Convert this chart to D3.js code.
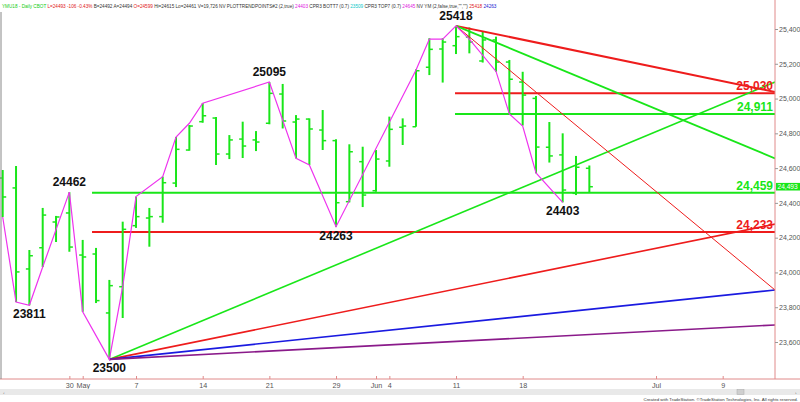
<!DOCTYPE html>
<html><head><meta charset="utf-8">
<script src="https://cdn.jsdelivr.net/npm/d3@7"></script>
<style>body{margin:0;background:#fff}svg{display:block}</style>
</head><body>
<script>
// ---- data ----
const dates = ["Apr 23","Apr 24","Apr 25","Apr 26","Apr 27","Apr 30","May 1","May 2","May 3","May 4",
 "May 7","May 8","May 9","May 10","May 11","May 14","May 15","May 16","May 17","May 18",
 "May 21","May 22","May 23","May 24","May 25","May 29","May 30","May 31","Jun 1",
 "Jun 4","Jun 5","Jun 6","Jun 7","Jun 8","Jun 11","Jun 12","Jun 13","Jun 14","Jun 15",
 "Jun 18","Jun 19","Jun 20","Jun 21","Jun 22","Jun 25"];
const opens  = [24543,24486,24020,24142,24290,24342,24100,24106,23767,23918,24269,24313,24321,24514,24704,24867,24888,24681,24767,24762,24858,25026,24865,24882,24819,24758,24407,24637,24470,24641,24835,24838,25180,25285,25304,25354,25216,25337,25210,25095,25001,24720,24676,24455,24599];
const highs  = [24589,24612,24129,24371,24325,24462,24187,24141,23957,24292,24436,24371,24551,24779,24848,24974,24894,24790,24867,24813,25095,25084,24905,24886,24934,24766,24737,24723,24704,24896,24886,25168,25347,25347,25418,25409,25383,25356,25222,25154,25015,24865,24800,24670,24615];
const lows   = [24319,23830,23811,24031,24175,24119,23774,23824,23500,23738,24256,24148,24286,24491,24700,24861,24618,24652,24658,24698,24852,24828,24656,24618,24704,24263,24403,24376,24464,24608,24733,24838,25135,25092,25256,25260,25207,25154,24911,24845,24570,24632,24403,24445,24461];
const closes = [24434,24003,24096,24330,24319,24146,24089,23838,23924,24248,24321,24321,24516,24708,24842,24901,24681,24762,24727,24750,25030,24871,24882,24825,24758,24401,24694,24445,24652,24823,24842,25160,25283,25325,25356,25325,25337,25210,25111,25020,24721,24670,24474,24605,24493];

const zigIdx = [0,1,2,3,5,6,8,9,10,12,13,14,15,20,22,23,25,31,32,33,34,35,37,38,39,40,42];
const zigVal = [24319,23830,23811,24031,24462,23774,23500,23918,24436,24551,24779,24858,24973,25095,24656,24618,24263,25164,25342,25342,25418,25342,25156,24911,24842,24572,24403];

const pivotIdx = [2,5,8,20,25,34,42];
const pivotVal = [23811,24462,23500,25095,24263,25418,24403];
const pivotPos = ["below","above","below","above","below","above","below"];

const levelVal = [24459,24233,25030,24911];
const levelStart = [7,7,34,34];

const trendStartIdx = [8,8,8,8,34,34,34];
const trendStartVal = [23500,23500,23500,23500,25418,25418,25418];
const trendEndVal   = [25095,24278,23899,23698,25038,24656,23899];

const yTicks = [23600,23800,24000,24200,24400,24600,24800,25000,25200,25400];
const xTickIdx = [5,6,10,15,20,25,28,29,34,39,49,54];
const xTickLab = ["30","May","7","14","21","29","Jun","4","11","18","Jul","9"];

const lastPrice = 24493;

// ---- styles ----
const GREEN = "#19e619", RED = "#ee1c1c", MAG = "#ee33ee";
const FONT = "Liberation Sans, Arial, sans-serif";
const trendStyle = [
  {c:GREEN,w:1.6},{c:RED,w:1.6},{c:"#1a1ae0",w:1.6},{c:"#8a1a8a",w:1.6},
  {c:RED,w:2},{c:GREEN,w:1.8},{c:RED,w:1}
];
const levelColor = [GREEN,RED,RED,GREEN];
const levelPad = [4,4,1,1];

const W=800,H=402, plotR=775, axisY=379;
const svg = d3.select("body").append("svg").attr("width",W).attr("height",H);
svg.append("rect").attr("width",W).attr("height",H).attr("fill","#fff");

const x = d3.scaleLinear().domain([0,1]).range([2.7,2.7+13.333]);
const y = d3.scaleLinear().domain([23600,25400]).range([342,29]);
const rightIdx = x.invert(plotR);

function fitWidth(sel, target, base){
  const len = sel.node().getComputedTextLength();
  sel.attr("font-size", base*target/len);
}

const g = svg.append("g");
g.append("defs").append("clipPath").attr("id","clip").append("rect")
  .attr("x",0).attr("y",12).attr("width",plotR).attr("height",axisY-12);
const plot = g.append("g").attr("clip-path","url(#clip)");

// level lines
levelVal.forEach((v,i)=>{
  plot.append("line").attr("x1",x(levelStart[i])-levelPad[i]).attr("x2",plotR)
   .attr("y1",y(v)).attr("y2",y(v)).attr("stroke",levelColor[i]).attr("stroke-width",2);
});

// bars
const bars = plot.selectAll("g.bar").data(dates.map((d,i)=>i)).join("g");
bars.append("line").attr("x1",i=>x(i)).attr("x2",i=>x(i))
  .attr("y1",i=>y(highs[i])).attr("y2",i=>y(lows[i])).attr("stroke",GREEN).attr("stroke-width",2);
bars.append("line").attr("x1",i=>x(i)-3.5).attr("x2",i=>x(i))
  .attr("y1",i=>y(opens[i])).attr("y2",i=>y(opens[i])).attr("stroke",GREEN).attr("stroke-width",1.5);
bars.append("line").attr("x1",i=>x(i)).attr("x2",i=>x(i)+3.5)
  .attr("y1",i=>y(closes[i])).attr("y2",i=>y(closes[i])).attr("stroke",GREEN).attr("stroke-width",1.5);

// trend lines
trendStartIdx.forEach((s,i)=>{
  plot.append("line").attr("x1",x(s)).attr("y1",y(trendStartVal[i]))
   .attr("x2",x(rightIdx)).attr("y2",y(trendEndVal[i]))
   .attr("stroke",trendStyle[i].c).attr("stroke-width",trendStyle[i].w);
});

// zigzag
plot.append("path").datum(zigIdx.map((d,i)=>[d,zigVal[i]]))
  .attr("d",d3.line().x(d=>x(d[0])).y(d=>y(d[1])))
  .attr("fill","none").attr("stroke",MAG).attr("stroke-width",1.2);

// pivot labels
pivotIdx.forEach((p,i)=>{
  const yy = y(pivotVal[i]) + (pivotPos[i]==="above" ? -6 : 13);
  g.append("text").attr("x",x(p)).attr("y",yy).attr("text-anchor","middle")
   .attr("font-family",FONT).attr("font-weight","bold")
   .attr("font-size",12).attr("fill","#111").text(pivotVal[i]);
});

// level labels
const fmt = d3.format(",");
levelVal.forEach((v,i)=>{
  g.append("text").attr("x",plotR-2).attr("y",y(v)-3).attr("text-anchor","end")
   .attr("font-family",FONT).attr("font-weight","bold")
   .attr("font-size",12).attr("fill",levelColor[i]).text(fmt(v));
});

// axes frame
g.append("line").attr("x1",plotR).attr("x2",plotR).attr("y1",0).attr("y2",axisY).attr("stroke","#e08a8a").attr("stroke-width",1);
g.append("line").attr("x1",0).attr("x2",W).attr("y1",axisY).attr("y2",axisY).attr("stroke","#e08a8a").attr("stroke-width",1);
g.append("line").attr("x1",1).attr("x2",1).attr("y1",12).attr("y2",axisY).attr("stroke","#888").attr("stroke-width",1);

// right axis
const ya = d3.axisRight(y).tickValues(yTicks).tickFormat(fmt).tickSize(3).tickPadding(1);
const yag = g.append("g").attr("transform",`translate(${plotR},0)`).call(ya);
yag.select(".domain").remove();
yag.selectAll("line").attr("stroke","#999");
yag.selectAll("text").attr("font-family",FONT).attr("font-size",7).attr("fill","#555");

// bottom axis
const xa = d3.axisBottom(x).tickValues(xTickIdx).tickFormat((d,i)=>xTickLab[i]).tickSize(-3).tickPadding(4);
const xag = g.append("g").attr("transform",`translate(0,${axisY})`).call(xa);
xag.select(".domain").remove();
xag.selectAll("line").attr("stroke","#e08a8a");
xag.selectAll("text").attr("font-family",FONT).attr("font-size",7.2).attr("fill","#555");

// last price box
g.append("rect").attr("x",plotR+1).attr("y",y(lastPrice)-3.8).attr("width",W-plotR-1).attr("height",7.6).attr("fill","#19e619");
g.append("text").attr("x",plotR+2.5).attr("y",y(lastPrice)+2.5).attr("font-family",FONT)
 .attr("font-size",6.6).attr("fill","#fff").text(fmt(lastPrice));

// scrollbar
g.append("rect").attr("x",0).attr("y",389).attr("width",W).attr("height",6).attr("fill","#e9e9e9");
g.append("rect").attr("x",737).attr("y",389.5).attr("width",7).attr("height",5).attr("fill","#cfcfcf").attr("stroke","#aaa").attr("stroke-width",0.5);
g.append("text").attr("x",3).attr("y",394).attr("font-size",5).attr("fill","#444").text("‹");
g.append("text").attr("x",795).attr("y",394).attr("font-size",5).attr("fill","#444").text("›");
const cr = g.append("text").attr("x",798).attr("y",400.5).attr("text-anchor","end").attr("font-family",FONT)
 .attr("font-size",5).attr("fill","#333").text("Created with TradeStation. ©TradeStation Technologies, Inc. All rights reserved.");
fitWidth(cr,155,5);

// header
const hdr = [
 ["YMU18 - Daily CBOT ","#14cc14"],["L=24493 -106 -0.43% ","#e01818"],["B=24492 A=24494 ","#333"],
 ["O=24599 ","#e01818"],["Hi=24615 Lo=24461 V=19,726 NV PLOTTRENDPOINTS#2 (2,true) ","#333"],
 ["24403 ","#e020e0"],["CPR3 BOTT7 (0.7) ","#333"],["23509 ","#10c8c8"],["CPR3 TOP7 (0.7) ","#333"],
 ["24645 ","#e020e0"],["NV YM (2,false,true,\"\",\"\") ","#333"],["25418 ","#e01818"],["24263","#2020d0"]
];
const ht = g.append("text").attr("x",2).attr("y",7.5).attr("font-family",FONT)
  .attr("font-size",7).attr("xml:space","preserve").style("white-space","pre");
hdr.forEach(h=>ht.append("tspan").attr("fill",h[1]).text(h[0]));
fitWidth(ht,495,7);
</script>
</body></html>
